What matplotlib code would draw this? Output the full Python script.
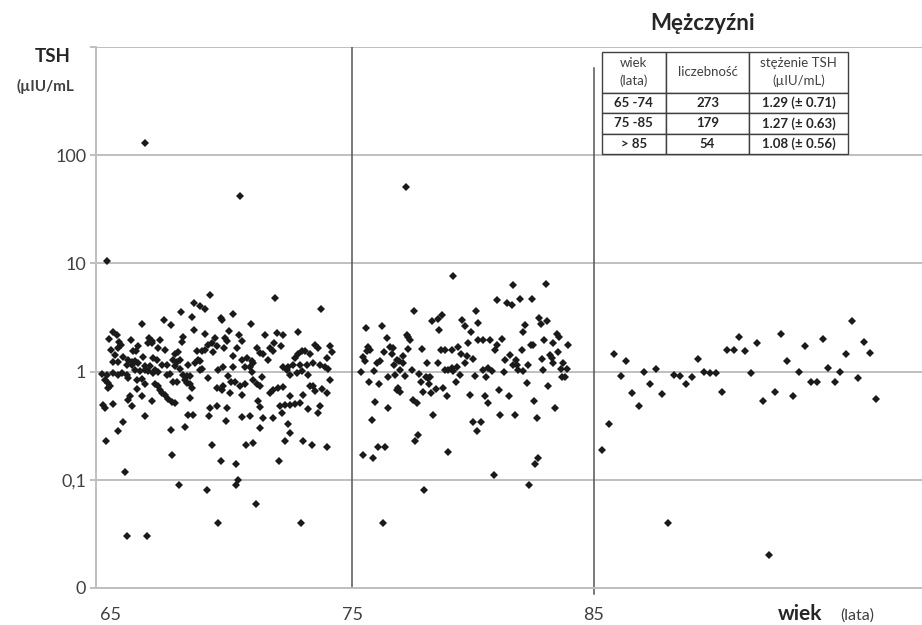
import matplotlib
matplotlib.use("Agg")
import matplotlib.pyplot as plt

plt.rcParams['font.family'] = ['Lato', 'DejaVu Sans']

########################################################################################################################
# Data

# 65-74 years
age_6574 = [
    69.10, 68.42, 68.70, 68.89, 67.90, 68.34, 69.55, 67.21, 67.48, 66.28,
    68.45, 65.10, 65.23, 64.92, 65.33, 65.81, 66.56, 66.68, 67.03, 67.99,
    68.89, 69.31, 69.20, 69.03, 69.38, 67.95, 65.00, 65.30, 65.41, 66.13,
    66.05, 65.92, 66.55, 66.71, 66.96, 67.24, 67.76, 67.65, 68.55, 68.75,
    68.89, 69.24, 65.17, 65.51, 65.72, 65.86, 65.99, 66.13, 66.34, 66.89,
    66.75, 67.58, 67.72, 67.86, 68.62, 68.69, 65.10, 65.30, 65.65, 65.86,
    66.41, 66.61, 66.82, 67.10, 67.30, 67.65, 67.86, 68.20, 68.48, 68.69,
    68.75, 69.42, 64.61, 64.82, 65.10, 65.30, 65.44, 65.65, 65.99, 66.20,
    66.41, 66.55, 66.75, 66.96, 67.30, 67.44, 67.99, 68.13, 68.27, 69.03,
    64.75, 64.89, 64.96, 65.72, 66.06, 66.27, 66.41, 66.82, 66.96, 67.03,
    67.10, 67.24, 67.58, 67.72, 68.06, 68.13, 68.27, 68.34, 69.38, 69.65,
    64.89, 66.06, 65.79, 65.72, 66.27, 66.68, 67.37, 67.51, 67.65, 68.27,
    64.68, 64.75, 65.10, 65.86, 69.10, 69.38, 65.51, 65.30, 66.41, 68.17,
    68.38, 69.07, 67.48, 68.06, 64.78, 69.17, 67.51,
    71.79, 73.68, 70.07, 69.58, 70.78, 69.90, 72.76, 71.38, 71.88, 72.14,
    70.31, 70.41, 69.72, 69.79, 69.68, 70.23, 71.03, 71.75, 71.58, 72.02,
    73.45, 73.59, 74.07, 74.14, 71.17, 71.31, 71.72, 71.51, 70.62, 70.07,
    70.41, 70.82, 72.89, 73.03, 72.76, 72.62, 73.24, 73.93, 69.62, 70.07,
    70.55, 70.76, 70.89, 72.14, 72.34, 72.55, 72.83, 73.10, 73.38, 73.65,
    73.86, 74.00, 72.27, 72.41, 72.69, 72.89, 73.17, 69.86, 70.82, 70.89,
    71.24, 70.55, 71.03, 71.17, 69.58, 69.99, 70.13, 70.34, 69.93, 70.41,
    71.58, 71.72, 71.93, 72.14, 73.24, 73.38, 73.45, 73.72, 73.93, 74.07,
    72.41, 72.96, 71.10, 69.79, 71.17, 71.99, 72.20, 72.41, 72.62, 72.83,
    73.17, 73.65, 72.07, 70.41, 70.76, 71.31, 71.72, 73.59, 69.76, 72.34,
    71.17, 72.41, 72.20, 72.96, 73.31, 73.93, 70.59, 70.89,
    64.85, 66.41, 70.34, 65.59, 67.83, 68.96, 69.55, 70.16, 70.25, 70.19,
    71.00, 69.43, 65.68, 66.48, 71.96, 72.88,
]
tsh_6574 = [
    5.14, 4.30, 4.01, 3.79, 3.56, 3.17, 3.13, 2.98, 2.72, 2.77,
    2.41, 2.31, 2.20, 2.02, 1.87, 1.95, 2.03, 1.93, 1.97, 2.08,
    2.23, 2.05, 1.84, 1.77, 1.71, 1.87, 1.60, 1.65, 1.77, 1.71,
    1.54, 1.54, 1.84, 1.84, 1.65, 1.60, 1.51, 1.44, 1.54, 1.54,
    1.60, 1.51, 1.41, 1.37, 1.29, 1.22, 1.25, 1.20, 1.37, 1.29,
    1.34, 1.29, 1.22, 1.29, 1.29, 1.25, 1.22, 1.22, 1.14, 1.16,
    1.12, 1.12, 1.04, 1.16, 1.14, 1.12, 1.06, 1.16, 1.20, 1.04,
    1.06, 1.03, 0.96, 0.94, 0.97, 0.94, 0.97, 0.94, 1.03, 1.01,
    1.04, 1.01, 0.97, 0.99, 0.94, 0.96, 0.94, 0.91, 0.91, 0.87,
    0.84, 0.79, 0.74, 0.87, 0.84, 0.86, 0.76, 0.76, 0.73, 0.68,
    0.64, 0.61, 0.81, 0.81, 0.84, 0.79, 0.76, 0.71, 0.71, 0.73,
    0.71, 0.69, 0.59, 0.55, 0.59, 0.53, 0.56, 0.52, 0.51, 0.57,
    0.49, 0.46, 0.50, 0.48, 0.46, 0.48, 0.34, 0.28, 0.39, 0.40,
    0.40, 0.39, 0.29, 0.31, 0.23, 0.21, 0.17,
    4.79, 3.82, 3.41, 3.02, 2.77, 2.36, 2.32, 2.16, 2.27, 2.20,
    2.20, 1.91, 2.05, 1.91, 1.65, 1.65, 1.65, 1.84, 1.65, 1.71,
    1.77, 1.65, 1.71, 1.51, 1.47, 1.44, 1.54, 1.29, 1.34, 1.39,
    1.27, 1.25, 1.54, 1.54, 1.44, 1.34, 1.44, 1.34, 1.10, 1.10,
    1.10, 1.10, 1.19, 1.10, 1.10, 1.14, 1.16, 1.14, 1.19, 1.14,
    1.10, 1.06, 1.04, 0.94, 0.97, 1.01, 0.94, 0.91, 0.99, 0.84,
    0.89, 0.77, 0.77, 0.73, 0.68, 0.81, 0.81, 0.73, 0.64, 0.61,
    0.64, 0.68, 0.71, 0.72, 0.74, 0.73, 0.66, 0.69, 0.64, 0.84,
    0.59, 0.61, 0.53, 0.46, 0.47, 0.48, 0.49, 0.49, 0.50, 0.51,
    0.45, 0.48, 0.41, 0.38, 0.39, 0.37, 0.37, 0.41, 0.35, 0.33,
    0.30, 0.27, 0.23, 0.23, 0.21, 0.20, 0.21, 0.22,
    10.6, 131.0, 42.4, 0.119, 0.089, 0.080, 0.15, 0.14, 0.099, 0.089,
    0.060, 0.040, 0.030, 0.030, 0.15, 0.040,
]

# 75-85 years
age_7585 = [
    79.18, 77.56, 78.28, 78.52, 78.72, 78.60, 75.56, 76.21, 76.42, 77.24,
    77.38, 77.31, 79.55, 79.66, 79.90, 80.12, 80.21, 80.19, 75.66, 75.73,
    75.59, 75.45, 75.52, 76.00, 76.14, 76.32, 76.55, 76.69, 76.62, 76.83,
    77.10, 77.31, 77.86, 78.07, 78.55, 78.65, 78.83, 79.11, 79.38, 79.50,
    79.73, 79.80, 79.98, 79.66, 76.72, 76.94, 77.10, 76.97, 77.45, 75.34,
    75.89, 76.48, 76.76, 77.17, 77.77, 78.05, 78.14, 78.21, 78.83, 78.97,
    79.11, 79.31, 79.18, 79.45, 80.07, 75.70, 76.11, 77.82, 78.18, 79.29,
    76.83, 76.97, 76.90, 77.93, 78.24, 78.46, 78.76, 78.93, 79.87, 77.52,
    77.66, 75.93, 76.48, 78.35, 75.79, 80.00, 80.14, 77.73, 77.59, 76.07,
    76.35, 75.42, 75.84, 78.97,
    81.63, 83.00, 81.00, 81.41, 81.59, 81.94, 82.42, 82.72, 82.79, 83.04,
    82.14, 82.05, 80.42, 80.69, 81.18, 80.97, 80.90, 82.39, 82.49, 82.93,
    83.29, 83.48, 83.57, 83.93, 82.00, 83.52, 83.18, 83.24, 81.31, 81.52,
    81.77, 81.66, 81.83, 81.87, 82.28, 82.83, 83.32, 83.73, 80.39, 80.62,
    80.76, 81.27, 82.07, 82.88, 83.62, 83.87, 83.66, 83.80, 80.53, 82.21,
    83.08, 80.49, 80.59, 81.08, 81.48, 82.52, 81.11, 81.73, 82.63, 83.39,
    80.32, 82.70,
    77.23, 77.97, 80.86, 82.57, 82.29, 76.26,
]
tsh_7585 = [
    7.69, 3.66, 2.95, 3.06, 3.36, 2.44, 2.55, 2.65, 2.05, 2.20,
    1.97, 2.09, 3.02, 2.62, 2.31, 3.60, 2.80, 1.96, 1.69, 1.60,
    1.54, 1.37, 1.25, 1.20, 1.25, 1.51, 1.69, 1.65, 1.44, 1.29,
    1.39, 1.62, 1.62, 1.20, 1.20, 1.57, 1.57, 1.60, 1.69, 1.44,
    1.39, 1.84, 1.31, 1.19, 1.14, 1.25, 1.19, 1.04, 1.03, 0.99,
    1.01, 0.89, 0.94, 0.91, 0.96, 0.89, 0.87, 0.89, 1.04, 1.04,
    1.08, 1.10, 1.01, 0.94, 0.92, 0.81, 0.77, 0.80, 0.76, 0.80,
    0.68, 0.65, 0.71, 0.65, 0.64, 0.69, 0.71, 0.59, 0.61, 0.55,
    0.51, 0.52, 0.46, 0.40, 0.36, 0.34, 0.28, 0.26, 0.23, 0.20,
    0.20, 0.17, 0.16, 0.18,
    6.35, 6.45, 4.62, 4.30, 4.15, 4.69, 4.72, 3.13, 2.75, 2.96,
    2.72, 2.31, 1.95, 1.95, 2.02, 1.77, 1.57, 1.77, 1.75, 1.95,
    1.84, 2.24, 2.09, 1.75, 1.60, 1.51, 1.41, 1.34, 1.29, 1.41,
    1.27, 1.16, 1.14, 1.04, 1.14, 1.31, 1.20, 1.20, 1.04, 1.08,
    1.01, 0.99, 1.01, 1.04, 1.06, 1.06, 0.89, 0.89, 0.89, 0.79,
    0.74, 0.59, 0.51, 0.67, 0.59, 0.53, 0.40, 0.40, 0.37, 0.46,
    0.34, 0.16,
    50.3, 0.080, 0.11, 0.14, 0.089, 0.040,
]

# > 85 years
age_85 = [
    85.84, 86.10, 86.34, 86.59, 86.85, 87.09, 87.33, 87.58, 87.82, 88.30,
    88.55, 88.80, 89.05, 89.29, 89.54, 89.79, 90.04, 90.29, 90.52, 90.78,
    91.02, 91.27, 91.52, 91.76, 92.00, 92.51, 92.74, 92.99, 93.23, 93.49,
    93.74, 93.97, 94.22, 94.47, 94.70, 94.97, 95.20, 95.45, 95.70, 95.95,
    96.18, 96.44, 96.68,
    85.35, 85.61, 88.05, 92.25,
]
tsh_85 = [
    1.46, 0.92, 1.25, 0.64, 0.48, 0.99, 0.77, 1.06, 0.62, 0.93,
    0.91, 0.76, 0.90, 1.32, 1.00, 0.97, 0.97, 0.65, 1.57, 1.60,
    2.07, 1.55, 0.97, 1.85, 0.53, 0.65, 2.23, 1.24, 0.60, 1.00,
    1.71, 0.80, 0.80, 2.00, 1.09, 0.80, 1.00, 1.44, 2.96, 0.87,
    1.89, 1.49, 0.56,
    0.19, 0.33, 0.040, 0.020,
]

# axis ticks
y_ticks = [0.01, 0.1, 1, 10, 100, 1000]
y_tick_labels = ["0", "0,1", "1", "10", "100", ""]
x_ticks = [65, 75, 85]
x_tick_labels = ["65", "75", "85"]
age_borders = [75, 85]

# summary table
table_header = ["wiek\n(lata)", "liczebność", "stężenie TSH\n(µIU/mL)"]
table_groups = ["65 -74", "75 -85", "> 85"]
table_counts = ["273", "179", "54"]
table_means = ["1.29 (± 0.71)", "1.27 (± 0.63)", "1.08 (± 0.56)"]

########################################################################################################################
# Plot

W, H = 922, 625
fig = plt.figure(figsize=(W / 100, H / 100), dpi=100)
ax = fig.add_axes([96 / W, 1 - 588 / H, 826 / W, 541 / H])

grid_col = "#bfbfbf"
mark_col = "#1a1a1a"

ax.set_yscale("log")
ax.set_ylim(0.01, 1000)
ax.set_xlim(64.38, 98.58)

ax.set_yticks(y_ticks)
ax.set_yticklabels(y_tick_labels)
ax.yaxis.set_minor_locator(matplotlib.ticker.NullLocator())
ax.set_xticks(x_ticks)
ax.set_xticklabels(x_tick_labels)

ax.yaxis.grid(True, color=grid_col, linewidth=1.4, zorder=0)
ax.set_axisbelow(True)
for side in ["top", "right"]:
    ax.spines[side].set_visible(False)
for side in ["left", "bottom"]:
    ax.spines[side].set_color(grid_col)
    ax.spines[side].set_linewidth(1.4)

ax.tick_params(axis="y", length=4, width=1.4, color=grid_col, labelsize=13, labelcolor="#404040", pad=3)
ax.tick_params(axis="x", length=0, labelsize=13, labelcolor="#404040", pad=14)

# age group borders
ax.axvline(age_borders[0], ymin=0, ymax=1, color="#555555", linewidth=1.1, zorder=1)
ax.axvline(age_borders[1], ymin=-0.012, ymax=0.961, color="#555555", linewidth=1.1, zorder=1, clip_on=False)

for ages, tsh in [(age_6574, tsh_6574), (age_7585, tsh_7585), (age_85, tsh_85)]:
    ax.plot(ages, tsh, "D", markersize=3.8, color=mark_col, markeredgewidth=0, zorder=3)

# labels
fig.text(703 / W, 1 - 24 / H, "Mężczyźni", ha="center", va="center", fontsize=16, fontweight="bold", color="#262626")
fig.text(53 / W, 1 - 56 / H, "TSH", ha="center", va="center", fontsize=13.5, fontweight="bold", color="#262626")
fig.text(45 / W, 1 - 86 / H, "(µIU/mL", ha="center", va="center", fontsize=11, fontweight="bold", color="#404040")
fig.text(778 / W, 1 - 614 / H, "wiek", ha="left", va="center", fontsize=15, fontweight="bold", color="#262626")
fig.text(840 / W, 1 - 616 / H, "(lata)", ha="left", va="center", fontsize=11.5, color="#404040")

# summary table
rows = [[g, n, m] for g, n, m in zip(table_groups, table_counts, table_means)]
tbl = ax.table(cellText=rows, colLabels=table_header, cellLoc="center",
               colWidths=[0.261, 0.338, 0.401],
               bbox=[0.612, 0.8017, 0.2985, 0.1897], zorder=5)
tbl.auto_set_font_size(False)
tbl.set_fontsize(9.5)
for (r, c), cell in tbl.get_celld().items():
    cell.set_edgecolor("#404040")
    cell.set_linewidth(1.0)
    cell.set_facecolor("white")
    cell.set_height(2.0 if r == 0 else 1.0)
    txt = cell.get_text()
    if r == 0:
        txt.set_color("#404040")
        txt.set_fontsize(9.5)
        txt.set_linespacing(1.5)
    else:
        txt.set_color("#262626")
        txt.set_fontweight("bold")

fig.savefig("out.png", dpi=100)
